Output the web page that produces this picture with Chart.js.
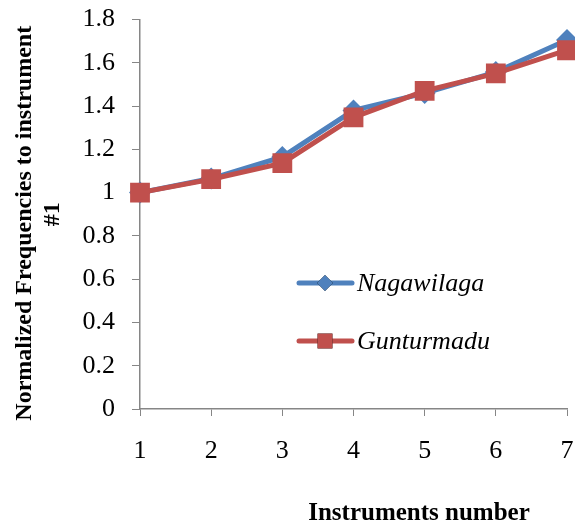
<!DOCTYPE html>
<html>
<head>
<meta charset="utf-8">
<script src="https://cdn.jsdelivr.net/npm/chart.js@4.4.0/dist/chart.umd.min.js"></script>
<style>
  body { margin: 0; background: #fff; }
  #wrap { width: 575px; height: 527px; }
</style>
</head>
<body>
<div id="wrap"><canvas id="freq-chart" width="575" height="527"></canvas></div>
<script>
// values
const instruments = ["1", "2", "3", "4", "5", "6", "7"];
const nagawilaga = [1, 1.065, 1.165, 1.38, 1.46, 1.557, 1.705];
const gunturmadu = [1, 1.062, 1.136, 1.348, 1.47, 1.551, 1.658];
const seriesNames = ["Nagawilaga", "Gunturmadu"];
// trailing spaces nudge the first line down a little, like the original
const yTitle = ["Normalized Frequencies to instrument   ", "#1"];
const xTitle = "Instruments number";

const axisGrey = "#868686";
const serif = "'Liberation Serif', 'Times New Roman', serif";

// draws the legend inside the plot and the x axis title
const extraText = {
    id: "extraText",
    afterDraw(chart) {
        const ctx = chart.ctx;
        const rows = [283, 341];
        ctx.save();
        chart.data.datasets.forEach((ds, i) => {
            const y = rows[i];
            ctx.strokeStyle = ds.borderColor;
            ctx.lineWidth = ds.borderWidth;
            ctx.lineCap = "round";
            ctx.beginPath();
            ctx.moveTo(299, y);
            ctx.lineTo(352, y);
            ctx.stroke();
            Chart.helpers.drawPoint(ctx, {
                pointStyle: ds.pointStyle,
                radius: ds.legendRadius,
                borderWidth: 0
            }, 325, y);
            ctx.fillStyle = ds.borderColor;
            ctx.fill();
            ctx.fillStyle = "#000";
            ctx.font = "italic 26px " + serif;
            ctx.textBaseline = "middle";
            ctx.textAlign = "left";
            ctx.fillText(ds.label, 357, y + 1);
        });
        ctx.font = "bold 25px " + serif;
        ctx.textAlign = "center";
        ctx.textBaseline = "middle";
        ctx.fillStyle = "#000";
        ctx.fillText(xTitle, 419, 514);
        ctx.restore();
    }
};

const chart = new Chart(document.getElementById("freq-chart"), {
    type: "line",
    data: {
        labels: instruments,
        datasets: [
            {
                label: seriesNames[0],
                data: nagawilaga,
                borderColor: "#4F81BD",
                backgroundColor: "#4F81BD",
                borderWidth: 5,
                pointStyle: "rectRot",
                pointRadius: 11,
                legendRadius: 8,
                pointBorderWidth: 0,
                order: 2
            },
            {
                label: seriesNames[1],
                data: gunturmadu,
                borderColor: "#C0504D",
                backgroundColor: "#C0504D",
                borderWidth: 5,
                pointStyle: "rect",
                pointRadius: 14,
                legendRadius: 10.5,
                pointBorderWidth: 0,
                order: 1
            }
        ]
    },
    options: {
        responsive: false,
        animation: false,
        layout: { autoPadding: false, padding: { top: 19.5, right: 8, left: 0, bottom: 0 } },
        plugins: {
            legend: { display: false },
            tooltip: { enabled: false }
        },
        elements: { line: { tension: 0 } },
        scales: {
            x: {
                offset: false,
                grid: {
                    drawOnChartArea: false,
                    drawTicks: true,
                    tickLength: 7,
                    color: axisGrey
                },
                border: { color: axisGrey, width: 1.5 },
                ticks: {
                    color: "#000",
                    padding: 20,
                    font: { family: serif, size: 26 },
                    maxRotation: 0
                },
                afterFit(scale) {
                    scale.height = 118;
                    scale.paddingLeft = 0;
                    scale.paddingRight = 0;
                }
            },
            y: {
                min: 0,
                max: 1.8,
                grid: {
                    drawOnChartArea: false,
                    drawTicks: true,
                    tickLength: 8,
                    color: axisGrey
                },
                border: { color: axisGrey, width: 1.5 },
                ticks: {
                    stepSize: 0.2,
                    color: "#000",
                    padding: 17,
                    font: { family: serif, size: 26 },
                    callback: v => String(+v.toFixed(1))
                },
                title: {
                    display: true,
                    text: yTitle,
                    color: "#000",
                    padding: { top: 11, bottom: 0 },
                    font: { family: serif, size: 24, weight: "bold", lineHeight: 1.17 }
                },
                afterFit(scale) {
                    scale.width = 140;
                    scale.paddingTop = 0;
                    scale.paddingBottom = 0;
                }
            }
        }
    },
    plugins: [extraText]
});
</script>
</body>
</html>
